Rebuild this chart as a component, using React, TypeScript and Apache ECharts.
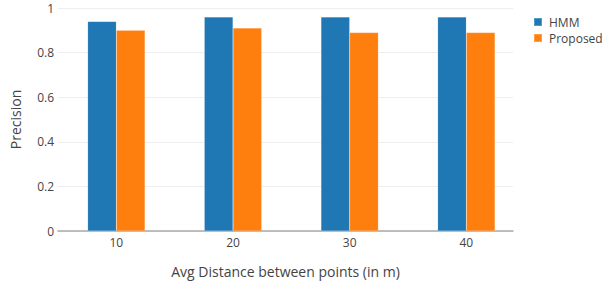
import React, { useEffect, useRef } from "react";
import * as echarts from "echarts";

const categories = [10, 20, 30, 40];
const hmmValues = [0.94, 0.96, 0.96, 0.96];
const proposedValues = [0.9, 0.91, 0.89, 0.89];
const seriesNames = ["HMM", "Proposed"];
const xTitle = "Avg Distance between points (in m)";
const yTitle = "Precision";

export default function App() {
  const ref = useRef<HTMLDivElement>(null);
  useEffect(() => {
    if (!ref.current) return;
    const chart = echarts.init(ref.current, undefined, { renderer: "svg" });
    const font = "'Open Sans', 'Noto Sans', sans-serif";
    chart.setOption({
      animation: false,
      textStyle: { fontFamily: font },
      grid: { left: 55, right: 91, top: 8, bottom: 60 },
      legend: {
        orient: "vertical",
        left: 528,
        top: 11,
        icon: "rect",
        itemWidth: 8,
        itemHeight: 8,
        itemGap: 4,
        data: seriesNames,
        textStyle: { color: "#444", fontSize: 12, fontFamily: font, padding: [0, 0, 0, 2] },
      },
      xAxis: {
        type: "value",
        min: 5,
        max: 44,
        interval: 5,
        name: xTitle,
        nameLocation: "middle",
        nameGap: 33,
        nameTextStyle: { color: "#444", fontSize: 14, fontFamily: font },
        axisLine: { show: true, onZero: false, lineStyle: { color: "#aaa", width: 1.5 } },
        axisTick: { show: false },
        splitLine: { show: false },
        axisLabel: {
          color: "#444",
          fontSize: 12,
          margin: 5,
          fontFamily: font,
          formatter: (v: number) => (categories.includes(v) ? String(v) : ""),
        },
      },
      yAxis: {
        type: "value",
        min: 0,
        max: 1,
        interval: 0.2,
        name: yTitle,
        nameLocation: "middle",
        nameGap: 36,
        nameTextStyle: { color: "#444", fontSize: 14, fontFamily: font },
        axisLine: { show: false },
        axisTick: { show: false },
        splitLine: { lineStyle: { color: "#eee", width: 1 } },
        axisLabel: {
          color: "#444",
          fontSize: 12,
          margin: 4,
          fontFamily: font,
          formatter: (v: number) => String(Math.round(v * 10) / 10),
        },
      },
      series: [
        {
          name: seriesNames[0],
          type: "bar",
          data: categories.map((c, i) => [c, hmmValues[i]]),
          barWidth: 28.7,
          barGap: "0%",
          itemStyle: { color: "#1f77b4", borderColor: "rgba(255,255,255,0.25)", borderWidth: 0.5 },
        },
        {
          name: seriesNames[1],
          type: "bar",
          data: categories.map((c, i) => [c, proposedValues[i]]),
          barWidth: 28.7,
          barGap: "0%",
          itemStyle: { color: "#ff7f0e", borderColor: "rgba(255,255,255,0.25)", borderWidth: 0.5 },
        },
      ],
    });
    return () => chart.dispose();
  }, []);
  return (
    <div
      ref={ref}
      style={{ position: "fixed", left: 0, top: 0, width: 604, height: 291, background: "#fff" }}
    />
  );
}
